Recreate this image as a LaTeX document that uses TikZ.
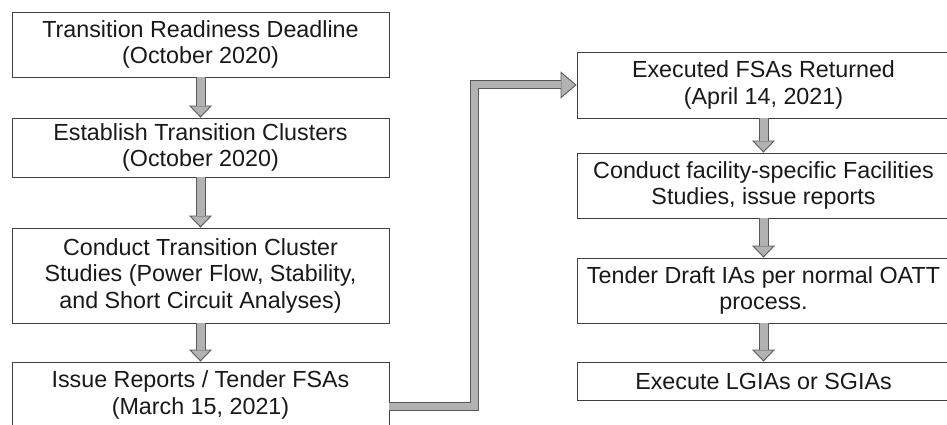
\documentclass[tikz,border=0pt]{standalone}
\usepackage{fontspec}
\setmainfont{Liberation Sans}
\usetikzlibrary{arrows.meta}
\begin{document}
\begin{tikzpicture}[x=1pt,y=-1pt,
  box/.style={draw=black!75, line width=0.9pt, align=center, inner sep=0pt,
    font=\fontsize{23.3}{26.5}\selectfont, text=black!90},
  lbox/.style={box, minimum width=377pt},
  rbox/.style={box, minimum width=373pt},
  downarrow/.style={line width=10pt, draw=black!65,
    -{Triangle[width=23pt,length=12pt,line width=0.9pt,fill=gray!60]},
    postaction={draw=gray!60, line width=8pt, -, shorten >=12pt}},
  elbowarrow/.style={line width=9pt, draw=black!65,
    -{Triangle[width=27pt,length=16pt,line width=0.9pt,fill=gray!60]},
    postaction={draw=gray!60, line width=7pt, -, shorten >=16pt}},
]
\useasboundingbox (0,0) rectangle (947,425);
\fill[white] (0,0) rectangle (947,425);

% left column
\node[lbox, minimum height=65pt] (b1) at (200.5,44.5)
  {Transition Readiness Deadline\\(October 2020)};
\node[lbox, minimum height=59pt] (b2) at (200.5,147.5)
  {Establish Transition Clusters\\(October 2020)};
\node[lbox, minimum height=95pt] (b3) at (200.5,275.5)
  {Conduct Transition Cluster\\Studies (Power Flow, Stability,\\and Short Circuit Analyses)};
\node[lbox, minimum height=66pt] (b4) at (200.5,395)
  {Issue Reports / Tender FSAs\\(March 15, 2021)};

% right column
\node[rbox, minimum height=66pt] (b5) at (763.5,85)
  {Executed FSAs Returned\\(April 14, 2021)};
\node[rbox, minimum height=65pt] (b6) at (763.5,185.5)
  {Conduct facility-specific Facilities\\Studies, issue reports};
\node[rbox, minimum height=65pt] (b7) at (763.5,290.5)
  {Tender Draft IAs per normal OATT\\process.};
\node[rbox, minimum height=38pt] (b8) at (763.5,381)
  {Execute LGIAs or SGIAs};

% vertical block arrows
\draw[downarrow] (b1.south) -- (b2.north);
\draw[downarrow] (b2.south) -- (b3.north);
\draw[downarrow] (b3.south) -- (b4.north);
\draw[downarrow] (b5.south) -- (b6.north);
\draw[downarrow] (b6.south) -- (b7.north);
\draw[downarrow] (b7.south) -- (b8.north);

% elbow connector
\coordinate (elbow) at (474,0);
\draw[elbowarrow] ([yshift=-11pt]b4.east) -| (elbow |- b5.west) -- (b5.west);
\end{tikzpicture}
\end{document}
